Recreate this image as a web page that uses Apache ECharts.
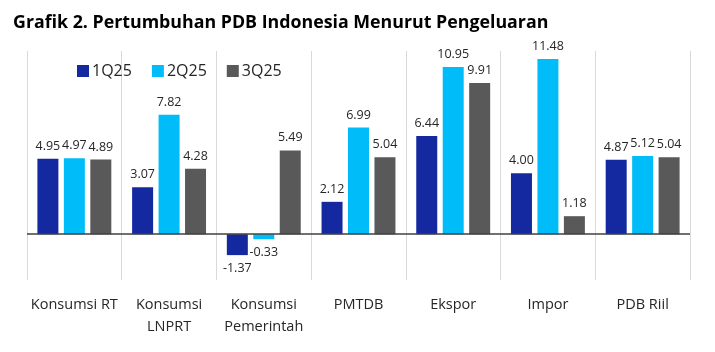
<!DOCTYPE html>
<html>
<head>
<meta charset="utf-8">
<script src="https://cdn.jsdelivr.net/npm/echarts@6/dist/echarts.min.js"></script>
<style>
  html, body { margin: 0; padding: 0; background: #fff; }
  #chart { width: 715px; height: 352px; }
</style>
</head>
<body>
<div id="chart"></div>
<script>
// data
const categories = ['Konsumsi RT', 'Konsumsi\nLNPRT', 'Konsumsi\nPemerintah', 'PMTDB', 'Ekspor', 'Impor', 'PDB Riil'];
const q1 = [4.95, 3.07, -1.37, 2.12, 6.44, 4.00, 4.87];
const q2 = [4.97, 7.82, -0.33, 6.99, 10.95, 11.48, 5.12];
const q3 = [4.89, 4.28, 5.49, 5.04, 9.91, 1.18, 5.04];

const fontFamily = '"Open Sans", "Noto Sans", sans-serif';
const colors = ['#14289f', '#00bdf9', '#595959'];

function barSeries(name, values) {
    return {
        name: name,
        type: 'bar',
        barWidth: 21,
        barGap: '26%',
        // negative values get their label under the bar
        data: values.map(function (v) {
            return v < 0 ? {value: v, label: {position: 'bottom', distance: 7}} : v;
        }),
        label: {
            show: true,
            position: 'top',
            distance: 6,
            color: '#262626',
            fontSize: 12.5,
            fontFamily: fontFamily,
            formatter: function (p) { return Number(p.value).toFixed(2); }
        }
    };
}

let series = [barSeries('1Q25', q1), barSeries('2Q25', q2), barSeries('3Q25', q3)];
// zero line
series[0].markLine = {
    silent: true,
    symbol: 'none',
    label: {show: false},
    lineStyle: {color: '#404040', width: 1.5, type: 'solid'},
    data: [{yAxis: 0}]
};

let chart = echarts.init(document.getElementById('chart'));
chart.setOption({
    animation: false,
    color: colors,
    title: {
        text: 'Grafik 2. Pertumbuhan PDB Indonesia Menurut Pengeluaran',
        left: 8,
        top: 9,
        textStyle: {fontFamily: fontFamily, fontWeight: 'bold', fontSize: 17.8, color: '#000'}
    },
    legend: {
        left: 72,
        top: 58,
        itemWidth: 12,
        itemHeight: 12,
        itemGap: 20,
        icon: 'rect',
        textStyle: {fontFamily: fontFamily, fontSize: 16, color: '#262626', padding: [0, 0, 0, -2]},
        data: ['1Q25', '2Q25', '3Q25']
    },
    grid: {left: 27, right: 25, top: 51, bottom: 72},
    xAxis: {
        type: 'category',
        data: categories,
        axisLine: {show: false},
        axisTick: {show: false},
        splitLine: {show: true, lineStyle: {color: '#d9d9d9', width: 1}},
        axisLabel: {
            margin: 14,
            fontFamily: fontFamily,
            fontSize: 14.5,
            color: '#262626',
            lineHeight: 22,
            interval: 0
        }
    },
    yAxis: {
        type: 'value',
        min: -3,
        max: 12,
        interval: 3,
        axisLabel: {show: false},
        axisLine: {show: false},
        axisTick: {show: false},
        splitLine: {show: false}
    },
    series: series
});
</script>
</body>
</html>
